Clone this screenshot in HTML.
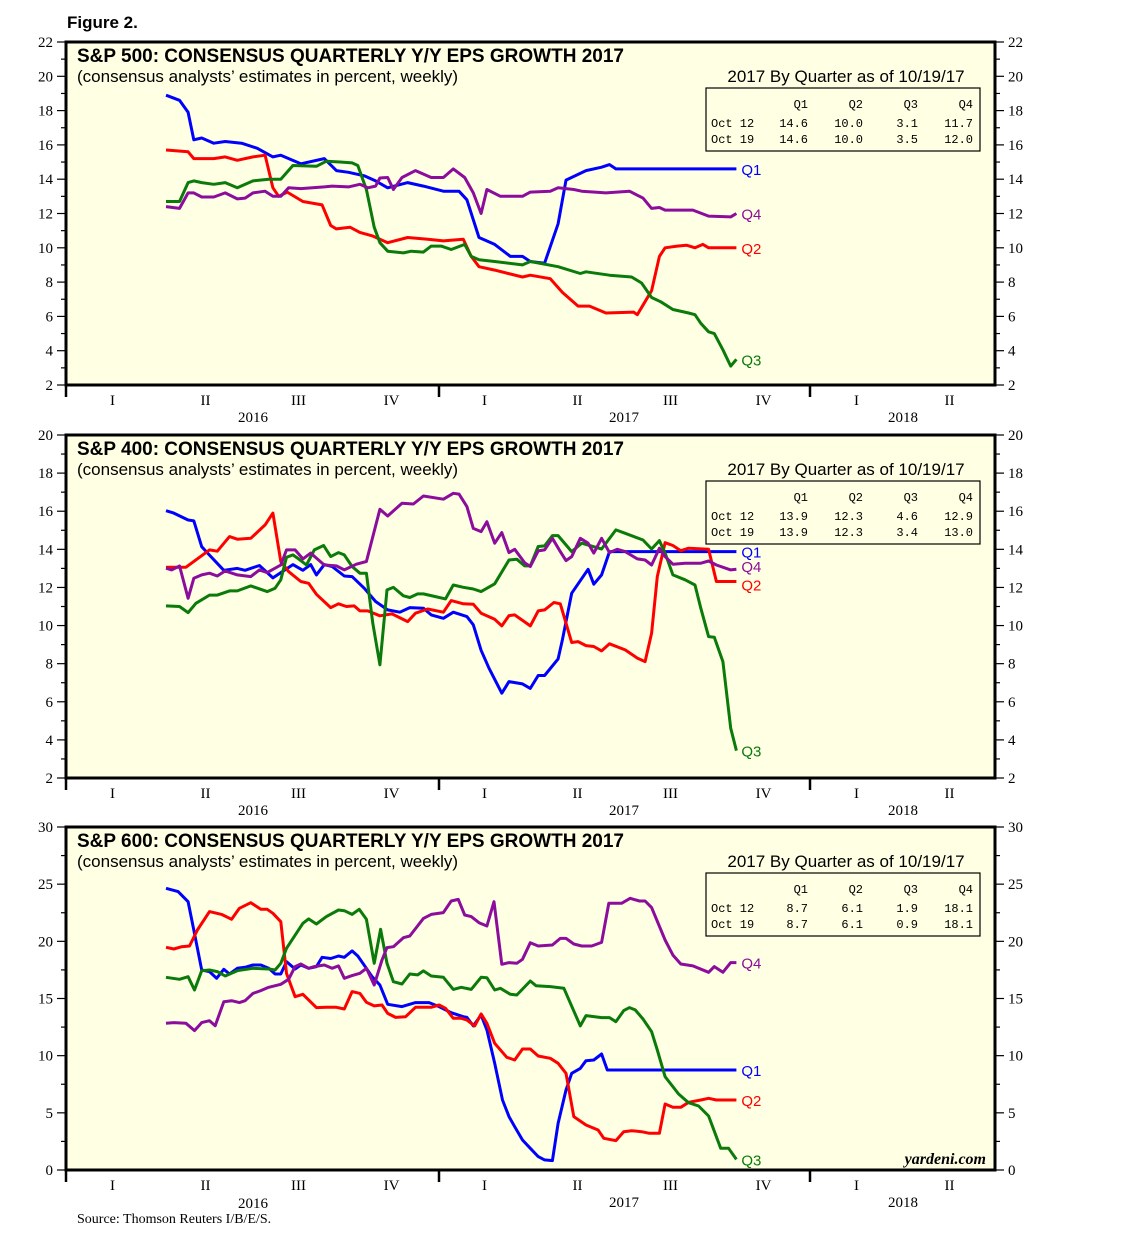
<!DOCTYPE html>
<html><head><meta charset="utf-8">
<style>
body{margin:0;background:#fff;width:1138px;height:1243px;overflow:hidden;font-family:"Liberation Sans",sans-serif;}
svg{position:absolute;left:0;top:0;}
</style></head>
<body>
<svg id="chart" width="1138" height="1243" xmlns="http://www.w3.org/2000/svg"></svg>
<script>
// ---------- DATA (weeks since first observation, early Apr 2016; values in %) ----------
const quarterLabels = ["I","II","III","IV","I","II","III","IV","I","II"];
const yearLabels = ["2016","2017","2018"];
const seriesNames = ["Q1","Q2","Q3","Q4"];

// S&P 500
const p1q1w=[0,1.9,3.1,3.9,5,6.7,8.3,10.6,12.8,15,16.1,18.9,22.2,23.9,25.6,27.8,29.4,31.1,33.9,36.1,38.9,41.1,42.2,43.9,46.1,48.3,50,51.1,53.1,55,56.1,58.9,61.1,62.2,63.1,80];
const p1q1v=[18.9,18.6,17.9,16.3,16.4,16.1,16.2,16.1,15.8,15.3,15.4,14.9,15.2,14.5,14.4,14.2,13.9,13.5,13.8,13.6,13.3,13.3,12.8,10.6,10.2,9.5,9.5,9.2,9.1,11.4,13.95,14.5,14.7,14.85,14.6,14.6];
const p1q2w=[0,3.1,3.9,6.7,8.3,10,12.2,13.9,15,15.8,17,19.2,21.9,23.1,23.9,25.8,27.2,28.9,31.1,33.9,36.7,38.9,41.7,42.8,43.9,46.1,50,51.1,53.9,55.6,57.8,59.4,61.7,65.6,66.1,68.1,69.2,70,71.7,73,74.2,75.3,76.1,80];
const p1q2v=[15.7,15.6,15.2,15.2,15.3,15.1,15.3,15.4,13.5,13,13.25,12.7,12.5,11.3,11.1,11.2,10.9,10.7,10.3,10.6,10.5,10.4,10.5,9.5,8.9,8.7,8.3,8.4,8.2,7.4,6.6,6.6,6.2,6.25,6.1,7.5,9.5,10.0,10.1,10.15,10.0,10.2,10.0,10.0];
const p1q3w=[0,1.9,3.1,3.9,5,6.7,8.3,10,12.2,14.4,16.1,17.8,21.1,22.5,24.4,26.1,26.9,28.1,29.2,30,31.1,33.3,34.4,36.1,37.2,38.6,40,41.9,42.8,43.9,46.1,50,51.1,55,58.1,58.9,62.2,65.3,66.7,68.1,69.4,71.1,73.3,74.2,75,76.1,76.9,78.1,79.2,80];
const p1q3v=[12.7,12.7,13.8,13.9,13.8,13.7,13.8,13.5,13.9,14.0,14.0,14.8,14.75,15.05,15.0,14.95,14.8,13.4,11.2,10.3,9.8,9.7,9.8,9.75,10.1,10.1,9.9,10.2,9.5,9.3,9.2,9.0,9.2,8.9,8.5,8.6,8.4,8.3,7.95,7.1,6.85,6.4,6.2,6.1,5.6,5.1,5.0,4.05,3.1,3.5];
const p1q4w=[0,1.9,3.1,3.9,5,6.7,8.3,10,11.1,12.2,13.9,15,16.1,17.2,18.9,22.2,23.3,25.6,27.2,28.3,29.4,30,31.1,31.9,33.1,35,37.2,38.9,40.3,41.9,43.1,44.2,45,46.9,50,51.1,53.9,55,57.2,58.3,61.7,65,66.9,68.1,69.2,70,73.9,76.1,79.2,80];
const p1q4v=[12.4,12.3,13.2,13.2,12.96,12.96,13.2,12.85,12.9,13.2,13.3,13.0,13.0,13.5,13.45,13.55,13.6,13.55,13.7,13.5,13.6,14.07,14.1,13.4,14.1,14.5,14.1,14.1,14.6,14.1,13.2,12.0,13.4,13.0,13.0,13.25,13.3,13.5,13.4,13.3,13.2,13.3,12.9,12.3,12.35,12.2,12.2,11.85,11.8,12.0];

// S&P 400
const p2q1w=[0,1.1,3.1,3.9,5,6.1,8.1,10,11.1,13.1,15,17.8,19.2,20.3,21.1,22.2,23.3,25,26.1,27.8,29.4,31.1,32.8,34.2,36.1,37.2,38.9,40.3,42.2,43.1,44.2,45.3,47.1,48.1,50,51.1,52.2,53.1,55,55.6,56.9,59.2,60,61.1,62.2,80];
const p2q1v=[16.03,15.9,15.54,15.5,14.14,13.7,12.9,13.0,12.9,13.15,12.5,13.2,12.9,13.2,12.66,13.2,13.1,12.6,12.57,11.96,11.26,10.82,10.7,10.94,10.91,10.56,10.38,10.7,10.47,10.04,8.7,7.76,6.45,7.06,6.94,6.7,7.38,7.38,8.25,9.25,11.7,12.95,12.17,12.66,13.88,13.88];
const p2q2w=[0,2.8,6.1,7.2,8.9,10,11.9,13.9,15,16.1,17.2,18.9,20,21.1,23.1,24.2,25.3,26.4,27.2,28.3,30,31.7,33.9,35,36.7,38.9,40,41.7,43.1,44.2,46.1,47.1,48.1,48.9,51.1,52.2,53.1,54.4,55.3,56.9,57.8,58.9,60,61.1,62.2,64.4,66.1,67.2,68.1,68.9,70,71.1,72.2,73.3,76.1,77.2,80];
const p2q2v=[13.06,13.06,13.97,13.9,14.67,14.53,14.58,15.28,15.9,13.36,12.83,12.31,12.22,11.64,10.94,11.14,11.0,11.03,10.77,10.77,10.51,10.61,10.21,10.65,10.87,10.7,11.31,11.14,11.12,10.65,10.33,9.98,10.52,10.56,9.98,10.77,10.82,11.21,11.14,9.11,9.16,8.95,8.9,8.67,9.04,8.72,8.29,8.11,9.6,12.57,14.35,14.2,13.93,14.06,14.0,12.31,12.31];
const p2q3w=[0,1.9,3.1,4.2,6.1,7.2,8.9,10,11.9,14.2,15.3,16.1,16.9,17.8,18.6,19.7,20.8,22.1,23.1,24.2,25,26.1,27.2,28.1,29,30,31,31.9,33.3,34.2,35.3,36.1,37.8,39.2,40.3,41.7,43.1,44.2,46.1,48.1,49.2,50.3,51.1,52.2,53.1,54.2,55,56.9,58.3,61.1,63.1,64.4,66.9,68.1,69.2,70,71.1,72.8,74.2,75,76.1,76.9,78.1,79.2,80];
const p2q3v=[11.03,11.0,10.68,11.17,11.6,11.6,11.82,11.82,12.08,11.78,11.96,12.4,13.58,13.71,13.5,13.18,13.97,14.2,13.62,13.83,13.71,13.1,12.75,12.75,10.12,7.94,11.87,12.0,11.56,11.47,11.66,11.66,11.52,11.4,12.13,12.01,11.92,11.78,12.19,13.44,13.48,13.13,13.13,14.15,14.18,14.72,14.72,13.88,14.32,14.02,15.02,14.84,14.49,14.02,14.46,13.8,12.66,12.4,12.13,10.91,9.42,9.39,8.11,4.62,3.44];
const p2q4w=[0,0.8,1.9,3.1,3.9,5,6.1,7.2,8.3,10,11.9,13.1,14.2,16.1,16.9,18.1,19.2,20.3,22.2,23.9,25,26.7,28.1,30,31.1,33.1,34.7,36.1,38.9,40.3,41.1,42.2,43.1,44.2,45,46.1,47.1,48.1,48.9,50.3,51.1,52.2,53.1,54.2,55.3,56.1,56.9,58.1,59.2,60,61.1,62.2,63.3,64.4,66.1,67.2,68.1,69.2,70,71.1,72.8,75,76.1,77.2,79.2,80];
const p2q4v=[13.01,12.92,13.13,11.43,12.48,12.66,12.75,12.6,12.87,12.66,12.57,12.92,12.78,13.18,13.97,13.97,13.5,13.8,13.18,13.13,12.92,13.22,13.36,16.1,15.75,16.42,16.38,16.8,16.63,16.94,16.9,16.24,15.1,14.93,15.45,14.32,14.88,13.83,14.0,13.3,13.1,13.92,13.97,14.58,13.88,13.41,13.62,14.58,14.32,13.8,14.58,13.83,14.0,13.88,13.5,13.44,13.18,14.06,13.62,13.22,13.27,13.27,13.39,13.18,12.92,12.96];

// S&P 600
const p3q1w=[0,1.7,3.1,3.9,5,6.1,7.1,8.1,8.9,10,11.1,12.2,13.3,14.4,15.3,16.1,16.9,18.1,18.9,20,21.1,21.9,23.1,24.2,25,26.1,26.9,28.1,28.9,30,31.1,33.1,35,36.9,38.3,40,41.7,42.2,43.1,44.2,45,46.1,47.2,48.1,48.9,50,51.1,52.2,53.1,54.2,55,56.1,56.9,58.1,58.9,60,61.1,61.9,80];
const p3q1v=[24.64,24.35,23.47,20.99,17.49,17.35,16.77,17.55,17.14,17.64,17.73,17.93,17.93,17.64,17.14,17.14,18.22,17.58,17.93,17.64,17.79,18.6,18.5,18.72,18.6,19.16,18.72,17.64,16.91,16.18,14.49,14.29,14.64,14.64,14.29,13.76,13.41,13.35,12.6,13.56,12.25,9.33,6.12,4.67,3.79,2.62,1.9,1.17,0.88,0.82,4.08,7.0,8.46,8.89,9.56,9.62,10.15,8.75,8.75];
const p3q2w=[0,1.1,2.2,3.3,4.4,6.1,7.8,9.2,10.3,11.9,13.3,14.2,15,16.1,16.9,18.1,19.2,21.1,22.5,23.9,25,26.1,27.2,28.1,29.2,30.3,31.1,32.2,33.6,35,37.2,38.3,39.2,40.3,41.4,42.2,43.3,44.2,45,46.1,47.8,48.9,50,51.1,52.2,53.9,55,56.1,57.2,58.9,60.6,61.4,63.1,64.2,65.3,66.7,67.8,69.2,70,71.1,72.2,73.3,75,76.1,77.2,80];
const p3q2v=[19.48,19.33,19.53,19.59,20.99,22.6,22.36,21.93,22.89,23.38,22.8,22.8,22.45,21.72,17.2,15.16,15.37,14.2,14.23,14.23,14.08,15.6,15.45,14.67,14.35,14.43,13.7,13.35,13.41,14.23,14.23,14.43,14.14,13.27,13.27,13.12,12.6,13.65,12.83,11.08,9.86,9.62,10.58,10.58,9.97,9.77,9.33,8.46,4.67,3.94,3.5,2.77,2.57,3.35,3.44,3.35,3.21,3.21,5.77,5.48,5.48,5.92,6.12,6.27,6.12,6.12];
const p3q3w=[0,1.9,3.1,4,5,6.1,7.2,8.3,10,12.2,14.4,15.3,16.1,16.9,19.2,20,21.1,22.5,24.2,25,26.1,27.1,28.1,29.2,30.1,31,31.9,33.1,34.2,35.3,36.1,37.2,38.9,40.3,41.4,42.8,44.2,45,46.1,46.9,48.3,49.2,51.1,51.9,53.9,55.8,58.1,58.9,61.1,62.2,63.1,64.2,65,65.8,66.9,68.1,68.9,70,71.9,73.3,74.7,76.1,77.8,78.9,80];
const p3q3v=[16.85,16.68,16.91,15.74,17.43,17.49,17.35,16.97,17.43,17.64,17.58,17.49,18.08,19.39,21.58,21.96,21.52,22.16,22.74,22.68,22.36,22.8,21.93,18.08,21.05,18.08,16.47,16.27,17.14,17.06,17.41,16.97,16.85,15.8,15.98,15.8,16.85,16.82,15.74,15.89,15.37,15.31,16.53,16.12,16.04,15.89,12.6,13.5,13.33,13.33,12.97,13.94,14.2,14.0,13.21,12.1,10.5,8.16,6.65,5.89,5.6,4.72,1.9,1.9,0.93];
const p3q4w=[0,1.1,2.8,4,5,6.1,6.9,8.1,9.2,10.3,11.1,12.2,13.3,14.4,16.1,17.2,18.1,18.9,20,20.8,22.2,23.3,24.2,25,26.1,27.2,28.1,29.2,30.3,31,31.9,33.3,34.2,36.1,37.2,38.9,40,41,41.9,42.8,43.9,45,46,47.1,48.1,49.2,50,51.1,52.2,54.2,55.3,56.1,57.2,58.3,59.7,61.1,62.1,63.9,65.1,66.4,67.2,68.1,70,71.1,72.2,73.9,76.1,76.9,78.1,79.2,80];
const p3q4v=[12.83,12.89,12.83,12.19,12.89,13.06,12.62,14.72,14.81,14.64,14.81,15.45,15.69,15.98,16.24,16.68,17.79,18.02,17.64,17.79,17.93,17.64,17.85,16.77,17.0,17.2,17.64,16.18,18.37,19.45,19.53,20.32,20.47,22.01,22.36,22.51,23.53,23.67,22.3,22.16,21.63,21.34,23.47,17.99,18.14,18.08,18.43,19.88,19.59,19.68,20.26,20.26,19.77,19.59,19.59,19.91,23.33,23.33,23.76,23.53,23.53,22.95,20.12,18.8,18.02,17.85,17.29,17.79,17.29,18.14,18.14];

// legend tables
const p1oct12=["14.6","10.0","3.1","11.7"], p1oct19=["14.6","10.0","3.5","12.0"];
const p2oct12=["13.9","12.3","4.6","12.9"], p2oct19=["13.9","12.3","3.4","13.0"];
const p3oct12=["8.7","6.1","1.9","18.1"], p3oct19=["8.7","6.1","0.9","18.1"];

// ---------- RENDER ----------
const NS="http://www.w3.org/2000/svg";
const svg=document.getElementById("chart");
const colors=["#0000ff","#ff0000","#0a7a0a","#8c0d9c"];
const X0=66,X1=995,FIRST=166,WEEK=7.13;
function xOf(w){return FIRST+w*WEEK;}
function mk(tag,attrs,parent){const e=document.createElementNS(NS,tag);for(const k in attrs)e.setAttribute(k,attrs[k]);(parent||svg).appendChild(e);return e;}
function txt(s,x,y,attrs,parent){const e=mk("text",Object.assign({x:x,y:y},attrs),parent);e.textContent=s;return e;}

txt("Figure 2.",67,28,{"font-size":"17","font-weight":"bold","font-family":"Liberation Sans, sans-serif",});

const panels=[
 {name:"S&P 500",top:42,bot:385,min:2,max:22,step:2,minor:1,series:[[p1q1w,p1q1v],[p1q2w,p1q2v],[p1q3w,p1q3v],[p1q4w,p1q4v]],t12:p1oct12,t19:p1oct19,labDy:[0,0,0,0],yearY:422},
 {name:"S&P 400",top:435,bot:778,min:2,max:20,step:2,minor:1,series:[[p2q1w,p2q1v],[p2q2w,p2q2v],[p2q3w,p2q3v],[p2q4w,p2q4v]],t12:p2oct12,t19:p2oct19,labDy:[0,3,0,-3],yearY:815},
 {name:"S&P 600",top:827,bot:1170,min:0,max:30,step:5,minor:2.5,series:[[p3q1w,p3q1v],[p3q2w,p3q2v],[p3q3w,p3q3v],[p3q4w,p3q4v]],t12:p3oct12,t19:p3oct19,labDy:[0,0,0,0],yearY:1208}
];

panels.forEach((p,pi)=>{
  const g=mk("g",{});
  
  
  const yOf=v=>p.bot-(v-p.min)/(p.max-p.min)*(p.bot-p.top);
  const bg=mk("rect",{x:X0,y:p.top,width:X1-X0,height:p.bot-p.top,fill:"#ffffe3"},g);
  
  
  for(let v=p.min;v<=p.max+1e-6;v+=p.minor){
    const major=Math.abs(v/p.step-Math.round(v/p.step))<1e-6;
    const y=yOf(v);
    mk("line",{x1:X0-(major?9:5),x2:X0,y1:y,y2:y,stroke:"#000","stroke-width":1.2},g);
    mk("line",{x1:X1,x2:X1+(major?9:5),y1:y,y2:y,stroke:"#000","stroke-width":1.2},g);
    if(major){
      const l=txt(String(v),53,y+5,{"font-size":"15","text-anchor":"end","font-family":"Liberation Serif, serif"},g);
      
      
      const r=txt(String(v),1008,y+5,{"font-size":"15","font-family":"Liberation Serif, serif"},g);
      
      
    }
  }
  const qW=(810-66)/8;
  quarterLabels.forEach((q,i)=>{
    const t=txt(q,X0+qW*(i+0.5),p.bot+20,{"font-size":"15","text-anchor":"middle","font-family":"Liberation Serif, serif"},g);
    
    
  });
  [66,439,810].forEach(x=>mk("line",{x1:x,x2:x,y1:p.bot,y2:p.bot+12,stroke:"#000","stroke-width":2.5},g));
  const yx=[253,624,903];
  yearLabels.forEach((yl,i)=>{
    const t=txt(yl,yx[i],(pi===2&&i>0)?p.yearY-1:p.yearY,{"font-size":"15","text-anchor":"middle","font-family":"Liberation Serif, serif"},g);
    
    
  });
  const tt=txt(p.name+": CONSENSUS QUARTERLY Y/Y EPS GROWTH 2017",77,p.top+20,{"font-size":"19","font-weight":"bold"},g);
  
  
  const st=txt("(consensus analysts\u2019 estimates in percent, weekly)",77,p.top+40,{"font-size":"17"},g);
  
  
  p.series.forEach((s,si)=>{
    const [ws,vs]=s;
    const pts=ws.map((w,i)=>xOf(w).toFixed(1)+","+yOf(vs[i]).toFixed(1)).join(" ");
    const pl=mk("polyline",{points:pts,fill:"none",stroke:colors[si],"stroke-width":3,"stroke-linejoin":"round"},g);
    
    
    const lw=ws[ws.length-1],lv=vs[vs.length-1];
    const lb=txt(seriesNames[si],xOf(lw)+5,yOf(lv)+6+p.labDy[si],{"font-size":"15",fill:colors[si]},g);
    
    
  });
  const lt=txt("2017 By Quarter as of 10/19/17",846,p.top+40,{"font-size":"17","text-anchor":"middle"},g);
  
  
  const bt=p.top+46;
  const box=mk("rect",{x:706,y:bt,width:274,height:63,fill:"none",stroke:"#000","stroke-width":1.2},g);
  
  
  const cols=[808,863,918,973];
  const mono={"font-size":"12","font-family":"Liberation Mono, monospace","text-anchor":"end"};
  seriesNames.forEach((q,i)=>txt(q,cols[i],bt+20,mono,g));
  txt("Oct 12",711,bt+39,{"font-size":"12","font-family":"Liberation Mono, monospace"},g);
  txt("Oct 19",711,bt+55,{"font-size":"12","font-family":"Liberation Mono, monospace"},g);
  p.t12.forEach((v,i)=>txt(v,cols[i],bt+39,mono,g));
  p.t19.forEach((v,i)=>txt(v,cols[i],bt+55,mono,g));
  const fr=mk("rect",{x:X0,y:p.top,width:X1-X0,height:p.bot-p.top,fill:"none",stroke:"#000","stroke-width":3},g);
  
  
});

const yd=txt("yardeni.com",986,1164,{"font-size":"16","font-style":"italic","font-weight":"bold","text-anchor":"end","font-family":"Liberation Serif, serif"});


const src=txt("Source: Thomson Reuters I/B/E/S.",77,1223,{"font-size":"14","font-family":"Liberation Serif, serif"});


</script>
</body></html>
